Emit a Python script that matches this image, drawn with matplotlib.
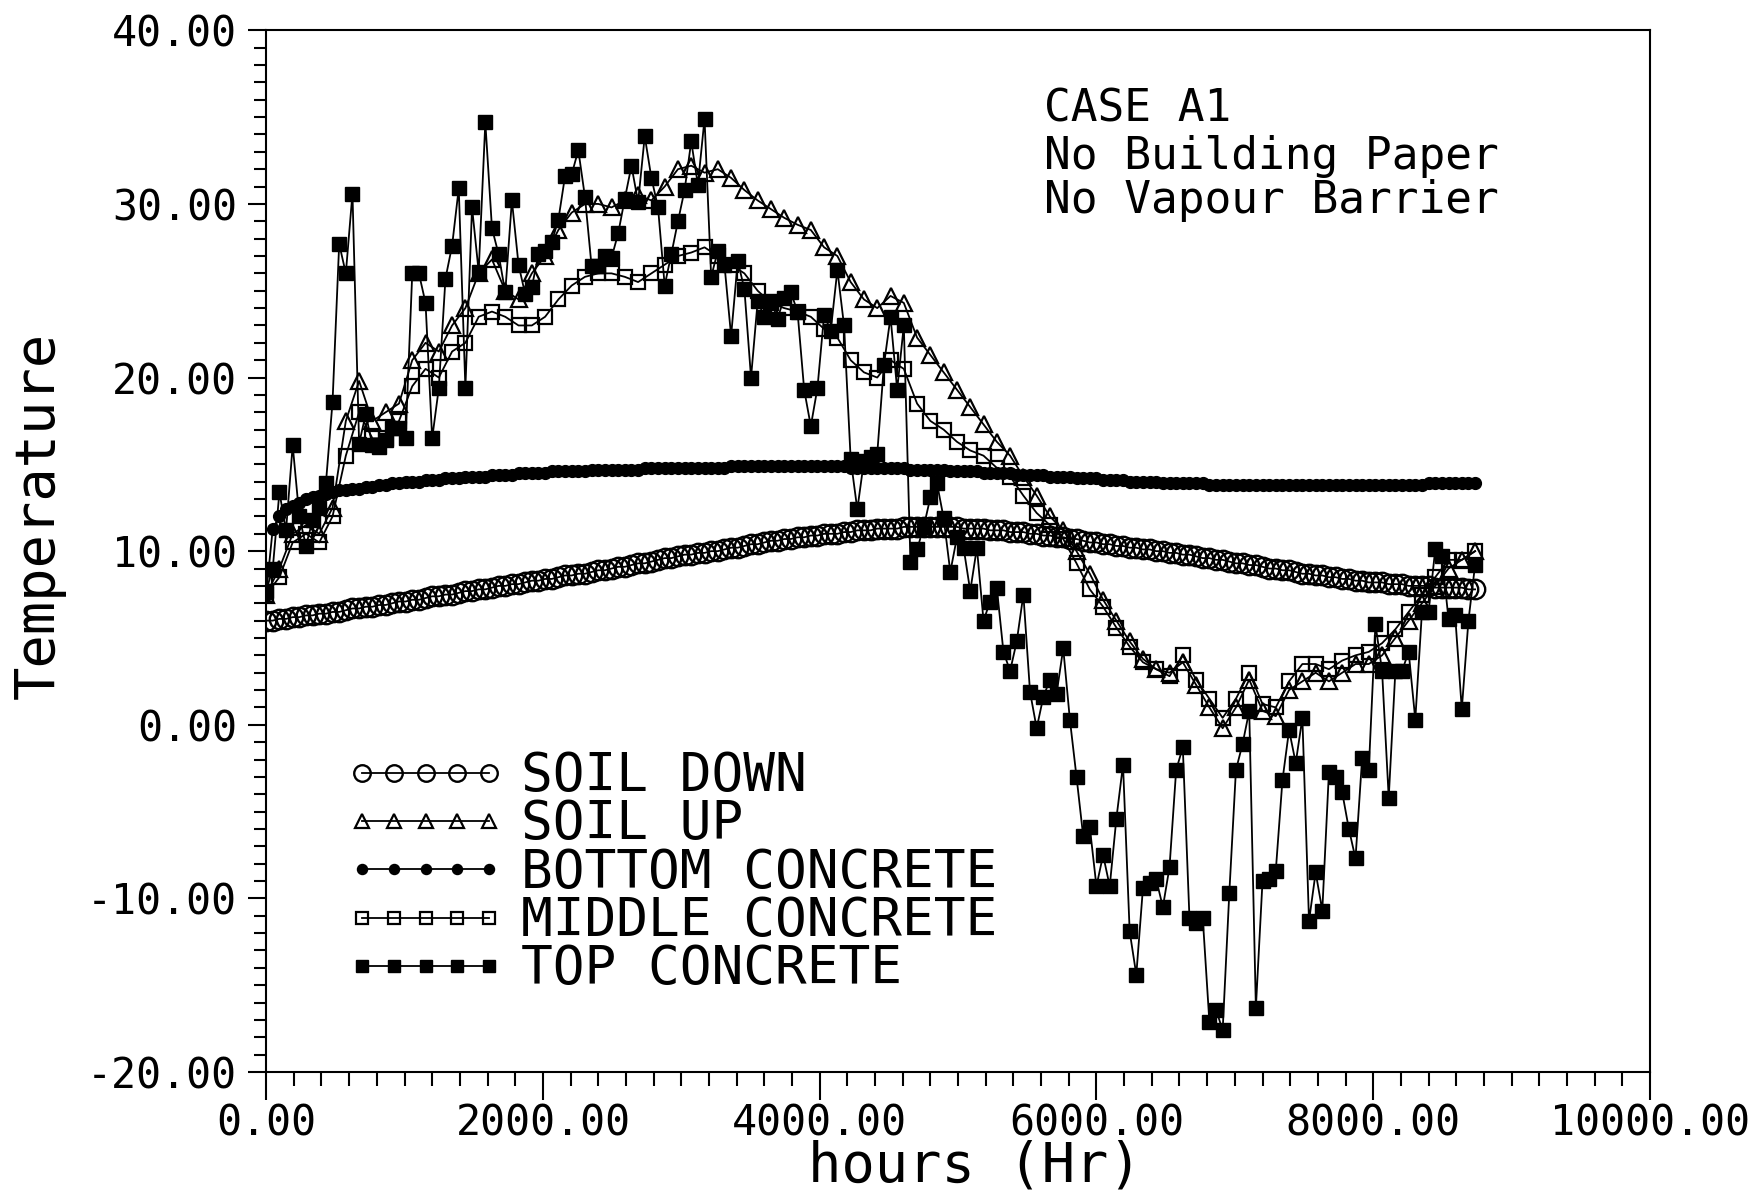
import numpy as np
import matplotlib
matplotlib.use("Agg")
import matplotlib.pyplot as plt
from matplotlib.ticker import MultipleLocator, FormatStrFormatter

plt.rcParams['font.family'] = ['DejaVu Sans Mono', 'DejaVu Sans']
plt.rcParams['axes.unicode_minus'] = False

# ---------------- data ----------------
hours_fine = np.arange(0, 8737, 48)     # 183 samples
hours_coarse = np.arange(0, 8737, 96)   # 92 samples

soil_down = [
    6.0, 6.0, 6.1, 6.1, 6.2, 6.2, 6.3, 6.3, 6.4, 6.4,
    6.5, 6.5, 6.6, 6.7, 6.7, 6.8, 6.8, 6.9, 6.9, 7.0,
    7.1, 7.1, 7.2, 7.2, 7.3, 7.4, 7.4, 7.5, 7.5, 7.6,
    7.7, 7.7, 7.8, 7.8, 7.9, 8.0, 8.0, 8.1, 8.1, 8.2,
    8.3, 8.3, 8.4, 8.4, 8.5, 8.6, 8.6, 8.7, 8.7, 8.8,
    8.9, 8.9, 9.0, 9.1, 9.1, 9.2, 9.3, 9.3, 9.4, 9.5,
    9.6, 9.6, 9.7, 9.8, 9.8, 9.9, 9.9, 10.0, 10.0, 10.1,
    10.2, 10.2, 10.3, 10.4, 10.4, 10.5, 10.6, 10.6, 10.7, 10.7,
    10.8, 10.8, 10.9, 10.9, 11.0, 11.0, 11.0, 11.1, 11.1, 11.2,
    11.2, 11.2, 11.3, 11.3, 11.3, 11.3, 11.4, 11.4, 11.4, 11.4,
    11.4, 11.4, 11.4, 11.4, 11.4, 11.3, 11.3, 11.3, 11.3, 11.2,
    11.2, 11.2, 11.1, 11.1, 11.1, 11.0, 11.0, 10.9, 10.9, 10.8,
    10.8, 10.7, 10.7, 10.6, 10.5, 10.5, 10.4, 10.4, 10.3, 10.3,
    10.2, 10.2, 10.1, 10.1, 10.0, 10.0, 9.9, 9.9, 9.8, 9.8,
    9.7, 9.6, 9.6, 9.5, 9.5, 9.4, 9.3, 9.3, 9.2, 9.2,
    9.1, 9.0, 9.0, 8.9, 8.9, 8.8, 8.7, 8.7, 8.6, 8.6,
    8.5, 8.5, 8.4, 8.4, 8.3, 8.3, 8.2, 8.2, 8.2, 8.1,
    8.1, 8.1, 8.0, 8.0, 8.0, 8.0, 7.9, 7.9, 7.9, 7.9,
    7.9, 7.8, 7.8]

bottom_concrete = [
    7.5, 11.3, 12.0, 12.4, 12.6, 12.8, 13.0, 13.1, 13.2, 13.3,
    13.4, 13.5, 13.5, 13.6, 13.6, 13.7, 13.7, 13.8, 13.8, 13.9,
    13.9, 14.0, 14.0, 14.0, 14.1, 14.1, 14.1, 14.2, 14.2, 14.2,
    14.3, 14.3, 14.3, 14.3, 14.4, 14.4, 14.4, 14.4, 14.5, 14.5,
    14.5, 14.5, 14.5, 14.6, 14.6, 14.6, 14.6, 14.6, 14.6, 14.7,
    14.7, 14.7, 14.7, 14.7, 14.7, 14.7, 14.7, 14.8, 14.8, 14.8,
    14.8, 14.8, 14.8, 14.8, 14.8, 14.8, 14.8, 14.8, 14.8, 14.8,
    14.9, 14.9, 14.9, 14.9, 14.9, 14.9, 14.9, 14.9, 14.9, 14.9,
    14.9, 14.9, 14.9, 14.9, 14.9, 14.9, 14.9, 14.9, 14.8, 14.8,
    14.8, 14.8, 14.8, 14.8, 14.8, 14.8, 14.8, 14.7, 14.7, 14.7,
    14.7, 14.7, 14.7, 14.6, 14.6, 14.6, 14.6, 14.6, 14.5, 14.5,
    14.5, 14.5, 14.5, 14.4, 14.4, 14.4, 14.4, 14.4, 14.3, 14.3,
    14.3, 14.3, 14.2, 14.2, 14.2, 14.2, 14.1, 14.1, 14.1, 14.1,
    14.0, 14.0, 14.0, 14.0, 14.0, 13.9, 13.9, 13.9, 13.9, 13.9,
    13.9, 13.9, 13.8, 13.8, 13.8, 13.8, 13.8, 13.8, 13.8, 13.8,
    13.8, 13.8, 13.8, 13.8, 13.8, 13.8, 13.8, 13.8, 13.8, 13.8,
    13.8, 13.8, 13.8, 13.8, 13.8, 13.8, 13.8, 13.8, 13.8, 13.8,
    13.8, 13.8, 13.8, 13.8, 13.8, 13.9, 13.9, 13.9, 13.9, 13.9,
    13.9, 13.9, 13.9]

top_concrete = [
    7.7, 9.0, 13.4, 11.2, 16.1, 12.0, 10.3, 11.8, 12.5, 13.9,
    18.6, 27.7, 26.0, 30.6, 16.2, 17.9, 16.1, 16.0, 16.4, 17.1,
    17.1, 16.5, 26.0, 26.0, 24.3, 16.5, 19.4, 25.7, 27.6, 30.9,
    19.4, 29.8, 26.1, 34.7, 28.6, 27.1, 24.9, 30.2, 26.5, 24.8,
    25.2, 27.1, 27.3, 27.8, 29.1, 31.6, 31.7, 33.1, 30.4, 26.4,
    26.4, 27.0, 26.9, 28.3, 30.3, 32.2, 30.1, 33.9, 31.5, 29.8,
    25.3, 27.1, 29.0, 30.8, 33.6, 31.1, 34.9, 25.8, 27.3, 26.5,
    22.4, 26.7, 25.1, 20.0, 24.4, 23.5, 24.4, 23.4, 24.6, 24.9,
    23.8, 19.3, 17.2, 19.4, 23.6, 22.7, 26.2, 23.0, 15.3, 12.4,
    15.2, 15.4, 15.6, 20.7, 23.5, 19.3, 23.0, 9.4, 10.1, 11.4,
    13.1, 13.9, 11.9, 8.8, 10.8, 10.2, 7.7, 10.2, 6.0, 7.1,
    7.9, 4.2, 3.1, 4.8, 7.5, 1.9, -0.2, 1.6, 2.6, 1.8,
    4.4, 0.3, -3.0, -6.4, -5.9, -9.3, -7.5, -9.3, -5.4, -2.3,
    -11.9, -14.4, -9.4, -9.1, -8.9, -10.5, -8.2, -2.6, -1.3, -11.1,
    -11.4, -11.1, -17.1, -16.4, -17.6, -9.7, -2.6, -1.1, 0.8, -16.3,
    -9.0, -8.9, -8.4, -3.2, -0.3, -2.2, 0.4, -11.3, -8.5, -10.7,
    -2.7, -3.0, -3.9, -6.0, -7.7, -1.9, -2.6, 5.8, 3.1, -4.2,
    3.1, 3.1, 4.2, 0.3, 6.5, 6.5, 10.1, 9.7, 6.1, 6.3,
    0.9, 6.0, 9.2]

soil_up = [
    7.5, 9.0, 11.0, 11.5, 11.0, 12.5, 17.5, 19.8, 17.5, 18.0,
    18.5, 21.0, 22.0, 21.5, 23.0, 24.0, 26.0, 26.8, 25.0, 24.5,
    26.0, 27.0, 28.5, 29.5, 30.0, 30.0, 29.8, 30.2, 30.5, 30.2,
    31.0, 32.0, 32.2, 31.8, 32.0, 31.5, 30.8, 30.2, 29.7, 29.2,
    28.8, 28.5, 27.5, 27.0, 25.5, 24.5, 24.0, 24.7, 24.3, 22.3,
    21.3, 20.3, 19.3, 18.3, 17.3, 16.3, 15.5, 14.3, 13.2, 12.0,
    11.2, 10.0, 8.7, 7.2, 6.0, 4.8, 3.8, 3.2, 3.0, 3.6,
    2.3, 1.0, -0.2, 1.0, 2.6, 0.8, 0.5, 2.0, 2.5, 3.0,
    2.5, 3.0, 3.5, 3.5, 4.0, 5.0, 6.0, 7.0, 8.0, 9.0,
    9.5, 10.0]

middle_concrete = [
    7.5, 8.5, 10.5, 11.0, 10.5, 12.0, 15.5, 18.0, 16.5, 16.5,
    17.5, 19.5, 20.5, 20.0, 21.5, 22.0, 23.5, 23.8, 23.5, 23.0,
    23.0, 23.5, 24.5, 25.3, 25.8, 26.0, 26.0, 25.8, 25.5, 26.0,
    26.5, 27.0, 27.2, 27.5, 27.0, 26.5, 26.0, 25.0, 24.3, 24.0,
    23.8, 23.5, 22.8, 22.3, 21.0, 20.3, 20.0, 21.0, 20.5, 18.5,
    17.5, 17.0, 16.3, 15.8, 15.5, 14.8, 14.3, 13.2, 12.2, 11.5,
    10.7, 9.3, 7.8, 6.8, 5.6, 4.5, 3.6, 3.2, 2.8, 4.0,
    2.6, 1.5, 0.4, 1.5, 3.0, 1.2, 1.0, 2.5, 3.5, 3.5,
    3.2, 3.7, 4.0, 4.2, 4.7, 5.5, 6.5, 7.5, 8.5, 9.5,
    9.5, 10.0]

series_labels = ["SOIL DOWN", "SOIL UP", "BOTTOM CONCRETE",
                 "MIDDLE CONCRETE", "TOP CONCRETE"]
case_lines = ["CASE A1", "No Building Paper", "No Vapour Barrier"]

# ---------------- figure ----------------
fig = plt.figure(figsize=(17.6, 11.93), dpi=100)
ax = fig.add_axes([0.1512, 0.1014, 0.7863, 0.8732])

lw = 1.3
mew = 1.6
h1, = ax.plot(hours_fine, soil_down, color='black', lw=lw, marker='o',
              ms=14, mfc='none', mec='black', mew=1.7)
h2, = ax.plot(hours_coarse, soil_up, color='black', lw=lw, marker='^',
              ms=11.5, mfc='none', mec='black', mew=mew)
h3, = ax.plot(hours_fine, bottom_concrete, color='black', lw=lw, marker='o',
              ms=8.5, mfc='black', mec='black', mew=1)
h4, = ax.plot(hours_coarse, middle_concrete, color='black', lw=lw, marker='s',
              ms=9.5, mfc='none', mec='black', mew=mew)
h5, = ax.plot(hours_fine, top_concrete, color='black', lw=lw, marker='s',
              ms=10, mfc='black', mec='black', mew=1)

ax.set_xlim(0, 10000)
ax.set_ylim(-20, 40)
ax.xaxis.set_major_locator(MultipleLocator(2000))
ax.xaxis.set_minor_locator(MultipleLocator(200))
ax.yaxis.set_major_locator(MultipleLocator(10))
ax.yaxis.set_minor_locator(MultipleLocator(1))
ax.xaxis.set_major_formatter(FormatStrFormatter('%.2f'))
ax.yaxis.set_major_formatter(FormatStrFormatter('%.2f'))

for s in ax.spines.values():
    s.set_linewidth(1.5)

ax.tick_params(axis='both', which='both', direction='out', width=1.5,
               labelsize=30, top=False, right=False)
ax.tick_params(axis='x', which='major', length=20, pad=2)
ax.tick_params(axis='x', which='minor', length=10)
ax.tick_params(axis='y', which='major', length=13, pad=8)
ax.tick_params(axis='y', which='minor', length=9)

xl = ax.set_xlabel("hours (Hr)", fontsize=40, va='center')
ax.xaxis.set_label_coords(0.512, -0.091)
yl = ax.set_ylabel("Temperature", fontsize=40, va='center')
ax.yaxis.set_label_coords(-0.164, 0.534)

for txt, yy in zip(case_lines, [0.924, 0.879, 0.837]):
    ax.text(0.562, yy, txt, transform=ax.transAxes, fontsize=32,
            ha='left', va='center')

leg = ax.legend([h1, h2, h3, h4, h5], series_labels, loc='upper left',
                bbox_to_anchor=(0.058, 0.309), frameon=False, fontsize=38,
                numpoints=5, handlelength=3.0, handletextpad=0.3,
                labelspacing=-0.07, borderpad=0, borderaxespad=0,
                markerscale=0.85)

fig.savefig("out.png", dpi=100, facecolor='white')
